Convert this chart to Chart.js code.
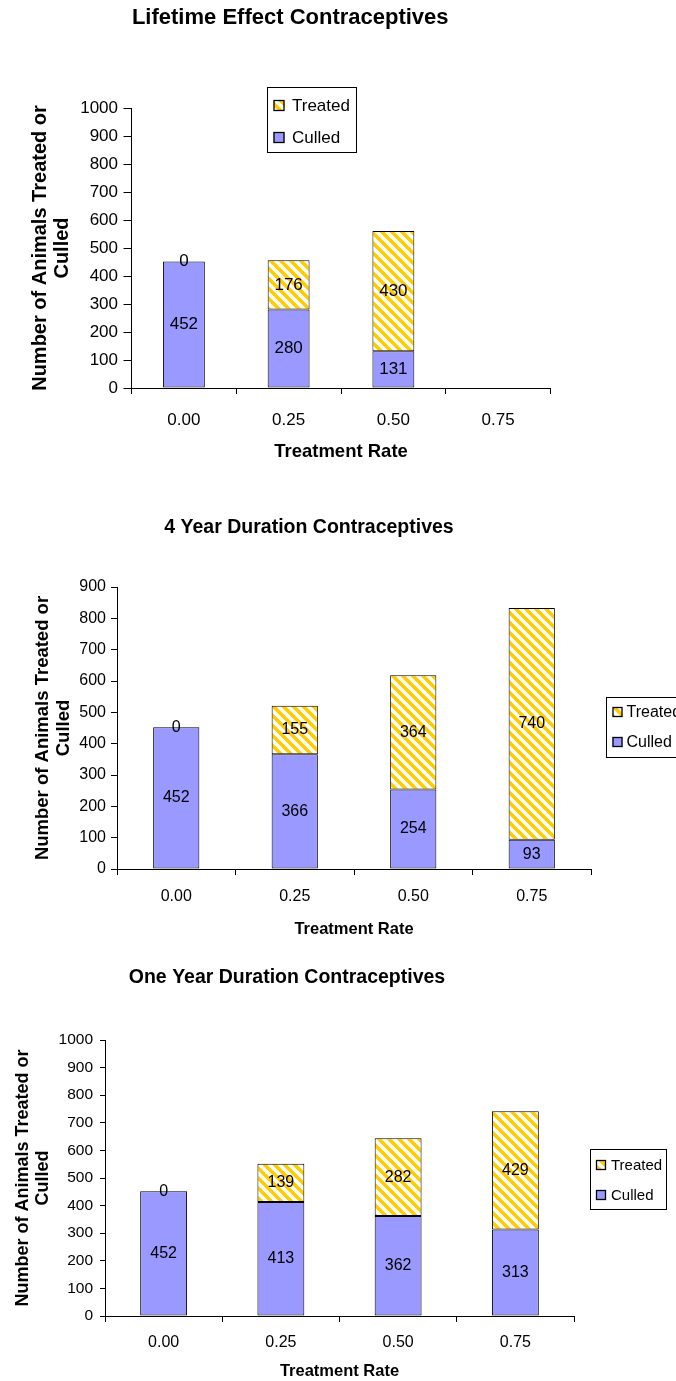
<!DOCTYPE html>
<html>
<head>
<meta charset="utf-8">
<title>Contraceptive treatment scenarios</title>
<script src="https://cdn.jsdelivr.net/npm/chart.js@4.4.1/dist/chart.umd.min.js"></script>
<style>
  html, body { margin: 0; padding: 0; background: #fff; width: 676px; height: 1381px; overflow: hidden; position: relative; }
  canvas { position: absolute; display: block; }
</style>
</head>
<body>
<canvas id="lifetime" width="646" height="470" style="left:30px;top:0px"></canvas>
<canvas id="fourYear" width="649" height="470" style="left:27px;top:470px"></canvas>
<canvas id="oneYear" width="667" height="441" style="left:0px;top:940px"></canvas>
<script>
// Treatment rates on the x axis
const rates = ['0.00', '0.25', '0.50', '0.75'];
const seriesNames = ['Culled', 'Treated'];

// Lifetime effect contraceptives (no run at 0.75)
const lifetimeCulled  = [452, 280, 131, null];
const lifetimeTreated = [0, 176, 430, null];

// 4 year duration contraceptives
const fourYearCulled  = [452, 366, 254, 93];
const fourYearTreated = [0, 155, 364, 740];

// One year duration contraceptives
const oneYearCulled  = [452, 413, 362, 313];
const oneYearTreated = [0, 139, 282, 429];

const yTitle = ['Number of Animals Treated or', 'Culled'];
const xTitle = 'Treatment Rate';

const FONT = '"Liberation Sans", Arial, Helvetica, sans-serif';
Chart.defaults.font.family = FONT;
Chart.defaults.color = '#000';

// Gold / white diagonal hatch used for the "Treated" series
function stripePattern() {
  const s = 10;
  const tile = document.createElement('canvas');
  tile.width = s; tile.height = s;
  const g = tile.getContext('2d');
  g.fillStyle = '#ffffff';
  g.fillRect(0, 0, s, s);
  g.strokeStyle = '#FFCC00';
  g.lineWidth = 3.6;
  g.beginPath();
  for (const k of [-1, 0, 1]) {
    g.moveTo(-2, -2 + k * s);
    g.lineTo(s + 2, s + 2 + k * s);
  }
  g.stroke();
  return g.createPattern(tile, 'repeat');
}
const hatch = stripePattern();

// Value printed in the middle of each stacked segment
const segmentLabels = {
  id: 'segmentLabels',
  afterDatasetsDraw(chart, args, opts) {
    const ctx = chart.ctx;
    ctx.save();
    ctx.font = opts.size + 'px ' + FONT;
    ctx.fillStyle = '#000';
    ctx.textAlign = 'center';
    ctx.textBaseline = 'middle';
    chart.data.datasets.forEach((ds, i) => {
      const meta = chart.getDatasetMeta(i);
      meta.data.forEach((bar, j) => {
        const v = ds.data[j];
        if (v === null || v === undefined) return;
        const p = bar.getProps(['x', 'y', 'base'], true);
        ctx.fillText(String(v), p.x, (p.y + p.base) / 2);
      });
    });
    ctx.restore();
  }
};

// Framed legend box (Treated listed above Culled)
const boxLegend = {
  id: 'boxLegend',
  afterDraw(chart, args, o) {
    const ctx = chart.ctx;
    ctx.save();
    ctx.fillStyle = '#fff';
    ctx.fillRect(o.x, o.y, o.w, o.h);
    ctx.strokeStyle = '#000';
    ctx.lineWidth = 1;
    ctx.strokeRect(o.x + 0.5, o.y + 0.5, o.w, o.h);
    ctx.font = o.size + 'px ' + FONT;
    ctx.textAlign = 'left';
    ctx.textBaseline = 'middle';
    const items = chart.data.datasets.slice().reverse();
    items.forEach((ds, k) => {
      const cy = o.rows[k];
      const top = Math.round(cy - o.ms / 2);
      ctx.fillStyle = ds.backgroundColor;
      ctx.fillRect(o.mx, top, o.ms, o.ms);
      ctx.lineWidth = 1.3;
      ctx.strokeStyle = '#000';
      ctx.strokeRect(o.mx + 0.5, top + 0.5, o.ms - 1, o.ms - 1);
      ctx.fillStyle = '#000';
      ctx.fillText(ds.label, o.tx, cy + 1);
    });
    ctx.restore();
  }
};

function makeChart(id, title, culled, treated, g) {
  return new Chart(document.getElementById(id), {
    type: 'bar',
    data: {
      labels: rates,
      datasets: [
        { label: seriesNames[0], data: culled, backgroundColor: '#9999FF', borderColor: '#000', borderWidth: 1,
          borderSkipped: false, barPercentage: g.bar, categoryPercentage: 1 },
        { label: seriesNames[1], data: treated, backgroundColor: hatch, borderColor: '#000', borderWidth: 1,
          borderSkipped: false, barPercentage: g.bar, categoryPercentage: 1 }
      ]
    },
    options: {
      responsive: false,
      animation: false,
      devicePixelRatio: 1,
      layout: { padding: { left: 0, right: g.padRight, top: 0, bottom: 0 } },
      plugins: {
        legend: { display: false },
        tooltip: { enabled: false },
        title: {
          display: true, text: title, color: '#000',
          font: { size: g.titleSize, weight: 'bold', lineHeight: 1.2 },
          padding: { top: g.titlePadTop, bottom: g.titlePadBottom }
        },
        segmentLabels: { size: g.labelSize },
        boxLegend: g.legend
      },
      scales: {
        x: {
          stacked: true,
          grid: { display: true, drawOnChartArea: false, drawTicks: true, tickLength: 6, color: '#000', offset: true },
          border: { display: true, color: '#000', width: 1 },
          ticks: { color: '#000', font: { size: g.xTickSize }, padding: g.xTickPad, maxRotation: 0, autoSkip: false },
          title: {
            display: true, text: xTitle, color: '#000',
            font: { size: g.xTitleSize, weight: 'bold', lineHeight: 1.2 },
            padding: { top: 0, bottom: g.xTitlePadBottom }
          },
          afterFit(s) { s.height = g.xHeight; }
        },
        y: {
          stacked: true, min: 0, max: g.yMax,
          ticks: { stepSize: 100, color: '#000', font: { size: g.yTickSize }, padding: g.yTickPad,
                   callback: v => String(v) },
          grid: { display: true, drawOnChartArea: false, drawTicks: true, tickLength: g.yTickLen, color: '#000' },
          border: { display: true, color: '#000', width: 1 },
          title: {
            display: true, text: yTitle, color: '#000',
            font: { size: g.yTitleSize, weight: 'bold', lineHeight: g.yTitleLH },
            padding: { top: g.yTitlePadTop, bottom: 0 }
          },
          afterFit(s) { s.width = g.yWidth; }
        }
      }
    },
    plugins: [segmentLabels, boxLegend]
  });
}

makeChart('lifetime', 'Lifetime Effect Contraceptives', lifetimeCulled, lifetimeTreated, {
  padRight: 125.5, titleSize: 22, titlePadTop: 4.8, titlePadBottom: 76.8, bar: 0.4,
  xTickSize: 17, xTickPad: 16.3, xTitleSize: 18.5, xHeight: 82, xTitlePadBottom: 6.9,
  yMax: 1000, yTickSize: 17, yTickLen: 8, yTickPad: 5.5, yWidth: 101.5,
  yTitleSize: 20, yTitleLH: 1.1, yTitlePadTop: -1, labelSize: 17,
  legend: { x: 237, y: 87, w: 89, h: 65, mx: 243.5, ms: 11, tx: 262, rows: [105, 137], size: 17 }
});

makeChart('fourYear', '4 Year Duration Contraceptives', fourYearCulled, fourYearTreated, {
  padRight: 85, titleSize: 19.5, titlePadTop: 46.3, titlePadBottom: 47.3, bar: 0.39,
  xTickSize: 16, xTickPad: 12.4, xTitleSize: 16.5, xHeight: 71, xTitlePadBottom: 1.1,
  yMax: 900, yTickSize: 16, yTickLen: 6, yTickPad: 5, yWidth: 90,
  yTitleSize: 18.5, yTitleLH: 1.135, yTitlePadTop: 5.5, labelSize: 16,
  legend: { x: 579, y: 227, w: 90, h: 60, mx: 585.5, ms: 10, tx: 599.5, rows: [242, 272], size: 16 }
});

makeChart('oneYear', 'One Year Duration Contraceptives', oneYearCulled, oneYearTreated, {
  padRight: 93, titleSize: 19.5, titlePadTop: 26.3, titlePadBottom: 50.3, bar: 0.40,
  xTickSize: 16, xTickPad: 11.4, xTitleSize: 16.5, xHeight: 65, xTitlePadBottom: 0.1,
  yMax: 1000, yTickSize: 15.5, yTickLen: 5, yTickPad: 7, yWidth: 105,
  yTitleSize: 18, yTitleLH: 1.11, yTitlePadTop: 13, labelSize: 16,
  legend: { x: 590, y: 209, w: 76, h: 60, mx: 596, ms: 10, tx: 611, rows: [225, 255], size: 15 }
});
</script>
</body>
</html>
